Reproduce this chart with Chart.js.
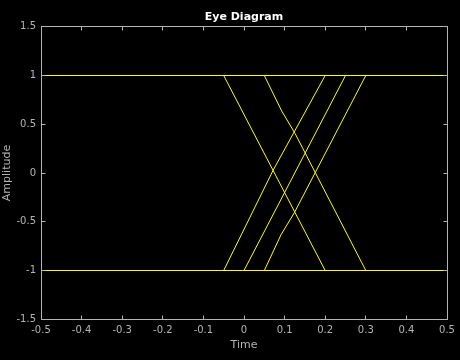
<!DOCTYPE html>
<html>
<head>
<meta charset="utf-8">
<script src="https://cdn.jsdelivr.net/npm/chart.js@4/dist/chart.umd.min.js"></script>
<style>
  html, body { margin: 0; padding: 0; background: #000; }
</style>
</head>
<body>
<canvas id="eye" width="460" height="360"></canvas>
<script>
// eye diagram traces (time, amplitude)
const levelTimes = [-0.5, 0.5];
const levels = [1, -1];

const fallA_t = [-0.05, 0.2];
const fallA_y = [1, -1];
const fallB_t = [0.05, 0.093, 0.126, 0.3];
const fallB_y = [1, 0.635, 0.404, -1];
const riseC_t = [-0.05, 0.072, 0.2];
const riseC_y = [-1, 0.03, 1];
const riseD_t = [0, 0.25];
const riseD_y = [-1, 1];
const riseE_t = [0.05, 0.091, 0.124, 0.3];
const riseE_y = [-1, -0.635, -0.407, 1];

const traces = [
  [fallA_t, fallA_y], [fallB_t, fallB_y],
  [riseC_t, riseC_y], [riseD_t, riseD_y], [riseE_t, riseE_y]
];

const YELLOW = '#ffff00';
const GRAY = '#b4b4b4';
const FONT = 'DejaVu Sans';

function pts(ts, ys) { return ts.map((t, i) => ({ x: t, y: ys[i] })); }

const datasets = [];
levels.forEach(lv => {
  datasets.push({ data: pts(levelTimes, [lv, lv]), borderColor: YELLOW });
});
traces.forEach(tr => {
  datasets.push({ data: pts(tr[0], tr[1]), borderColor: YELLOW });
});
datasets.forEach(d => {
  d.showLine = true; d.pointRadius = 0; d.borderWidth = 1; d.fill = false;
});

// box, inward ticks and the text around the axes
const frame = {
  id: 'frame',
  beforeDraw(chart) {
    const c = chart.ctx;
    c.save();
    c.fillStyle = '#000';
    c.fillRect(0, 0, chart.width, chart.height);
    c.restore();
  },
  afterDraw(chart) {
    const c = chart.ctx, a = chart.chartArea;
    const xs = chart.scales.x, ys = chart.scales.y;
    const L = Math.floor(a.left) + 0.5, R = Math.floor(a.right) + 0.5;
    const T = Math.floor(a.top) + 0.5, B = Math.floor(a.bottom) + 0.5;
    c.save();
    c.strokeStyle = GRAY;
    c.lineWidth = 1;
    c.strokeRect(L, T, R - L, B - T);
    c.beginPath();
    xs.ticks.forEach(t => {
      const p = Math.floor(xs.getPixelForValue(t.value) + 0.01) + 0.5;
      c.moveTo(p, B); c.lineTo(p, B - 4);
      c.moveTo(p, T); c.lineTo(p, T + 4);
    });
    ys.ticks.forEach(t => {
      const p = Math.floor(ys.getPixelForValue(t.value) + 0.01) + 0.5;
      c.moveTo(L, p); c.lineTo(L + 4, p);
      c.moveTo(R, p); c.lineTo(R - 4, p);
    });
    c.stroke();

    const mid = (a.left + a.right) / 2;
    c.textAlign = 'center';
    c.textBaseline = 'middle';
    c.fillStyle = '#ffffff';
    c.font = 'bold 11px "' + FONT + '"';
    c.fillText('Eye Diagram', mid, 17);
    c.fillStyle = GRAY;
    c.font = '11px "' + FONT + '"';
    c.fillText('Time', mid, 345);
    c.translate(7, (a.top + a.bottom) / 2);
    c.rotate(-Math.PI / 2);
    c.fillText('Amplitude', 0, 0);
    c.restore();
  }
};

new Chart(document.getElementById('eye'), {
  type: 'scatter',
  data: { datasets: datasets },
  options: {
    responsive: false,
    animation: false,
    layout: { padding: { top: 26.75, right: 13, left: 0, bottom: 0 } },
    plugins: { legend: { display: false }, tooltip: { enabled: false } },
    scales: {
      x: {
        type: 'linear', min: -0.5, max: 0.5,
        afterFit(s) { s.height = 40.75; },
        grid: { display: false, drawTicks: false },
        border: { display: false },
        ticks: {
          stepSize: 0.1, padding: 5, color: GRAY,
          font: { family: FONT, size: 10 },
          callback: v => String(Math.round(v * 10) / 10)
        }
      },
      y: {
        type: 'linear', min: -1.5, max: 1.5,
        afterFit(s) { s.width = 41; },
        grid: { display: false, drawTicks: false },
        border: { display: false },
        ticks: {
          stepSize: 0.5, padding: 5, color: GRAY,
          font: { family: FONT, size: 10 },
          callback: v => String(v)
        }
      }
    }
  },
  plugins: [frame]
});
</script>
</body>
</html>
